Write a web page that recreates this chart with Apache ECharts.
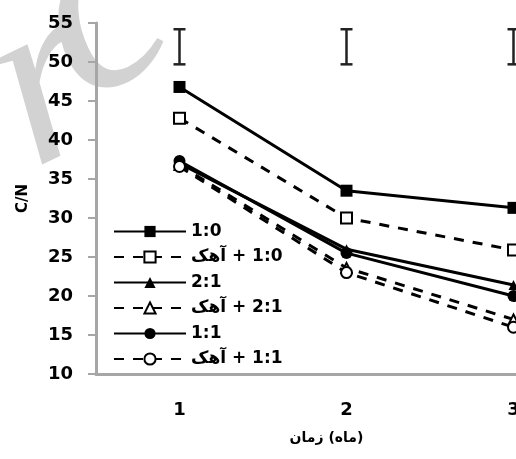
<!DOCTYPE html>
<html>
<head>
<meta charset="utf-8">
<script src="https://cdn.jsdelivr.net/npm/echarts@6/dist/echarts.min.js"></script>
<style>html,body{margin:0;padding:0;background:#fff}#c{width:516px;height:459px}</style>
</head>
<body>
<div id="c"></div>
<script>
const categories = ['1', '2', '3'];
const names = ['1:0', '\u202A\u0622\u0647\u06A9\u200E + 1:0\u202C', '2:1', '\u202A\u0622\u0647\u06A9\u200E + 2:1\u202C', '1:1', '\u202A\u0622\u0647\u06A9\u200E + 1:1\u202C'];
const s10 = [46.8, 33.5, 31.3];
const s10L = [42.8, 30.0, 25.9];
const s21 = [37.0, 26.0, 21.4];
const s21L = [36.8, 23.6, 17.0];
const s11 = [37.3, 25.5, 20.0];
const s11L = [36.6, 23.0, 16.0];
const errLow = [49.7, 49.7, 49.7];
const errHigh = [54.2, 54.2, 54.2];
const yTicks = [10, 15, 20, 25, 30, 35, 40, 45, 50, 55];

const chart = echarts.init(document.getElementById('c'), null, {renderer: 'canvas'});
const FONT = 'DejaVu Sans, sans-serif';

function lineSeries(name, data, symbol, size, dashed) {
  return {
    name: name, type: 'line', data: data, symbol: symbol, symbolSize: size,
    showAllSymbol: true, clip: false,
    lineStyle: {color: '#000', width: 3, type: dashed ? [10, 9] : 'solid'},
    itemStyle: {color: '#000', borderColor: '#000', borderWidth: dashed ? 2 : 0},
    emphasis: {disabled: true}, z: 3
  };
}

const option = {
  animation: false,
  backgroundColor: '#fff',
  graphic: [
    {type: 'text', left: -50, top: -45, z: -10, rotation: 0.45,
     style: {text: 'r', font: 'italic 250px Liberation Serif', fill: '#d2d2d2'}},
    {type: 'text', left: -10, top: -135, z: -10, rotation: 0.45,
     style: {text: 'c', font: 'italic 270px Liberation Serif', fill: '#d2d2d2'}}
  ],
  grid: {left: 96, top: 23, width: 501, height: 351, containLabel: false, outerBoundsMode: 'none'},
  xAxis: {
    type: 'category', data: categories, boundaryGap: true,
    name: '\u202A\u0632\u0645\u0627\u0646\u200E (\u0645\u0627\u0647)\u202C', nameLocation: 'middle', nameGap: 57,
    nameTextStyle: {fontFamily: FONT, fontWeight: 'bold', fontSize: 14, color: '#000', padding: [0, 40, 0, 0]},
    axisLine: {lineStyle: {color: '#a6a6a6', width: 3}},
    axisTick: {alignWithLabel: true, inside: true, length: 5, lineStyle: {color: '#a6a6a6', width: 2}},
    axisLabel: {margin: 27, fontFamily: FONT, fontSize: 18, fontWeight: 'bold', color: '#000'},
    splitLine: {show: false}
  },
  yAxis: {
    type: 'value', min: 10, max: 55, interval: 5,
    name: 'C/N', nameLocation: 'middle', nameGap: 65, nameRotate: 90,
    nameTextStyle: {fontFamily: FONT, fontWeight: 'bold', fontSize: 15, color: '#000'},
    axisLine: {show: true, lineStyle: {color: '#a6a6a6', width: 3}},
    axisTick: {show: true, length: 8, lineStyle: {color: '#a6a6a6', width: 2}},
    axisLabel: {margin: 23, fontFamily: FONT, fontSize: 18, fontWeight: 'bold', color: '#000',
      formatter: v => yTicks.includes(v) ? String(v) : ''},
    splitLine: {show: false}
  },
  legend: {
    show: true, orient: 'vertical', left: 108, top: 218,
    itemWidth: 72, itemHeight: 14, itemGap: 8.5,
    data: names,
    textStyle: {fontFamily: FONT, fontWeight: 'bold', fontSize: 17, color: '#000'},
    backgroundColor: 'transparent', selectedMode: false
  },
  series: [
    lineSeries(names[0], s10, 'rect', 12, false),
    lineSeries(names[1], s10L, 'emptyRect', 11, true),
    lineSeries(names[2], s21, 'triangle', 10, false),
    lineSeries(names[3], s21L, 'emptyTriangle', 10, true),
    lineSeries(names[4], s11, 'circle', 12, false),
    lineSeries(names[5], s11L, 'emptyCircle', 11, true),
    {
      type: 'custom', name: 'err', z: 4, silent: true, clip: false,
      data: categories.map((c, i) => [i, errLow[i], errHigh[i]]),
      encode: {x: 0, y: [1, 2]},
      renderItem: function (params, api) {
        const lo = api.coord([api.value(0), api.value(1)]);
        const hi = api.coord([api.value(0), api.value(2)]);
        const hw = 6;
        const st = {stroke: '#222', lineWidth: 2.5};
        return {type: 'group', children: [
          {type: 'line', shape: {x1: lo[0], y1: lo[1], x2: hi[0], y2: hi[1]}, style: st},
          {type: 'line', shape: {x1: lo[0] - hw, y1: lo[1], x2: lo[0] + hw, y2: lo[1]}, style: st},
          {type: 'line', shape: {x1: hi[0] - hw, y1: hi[1], x2: hi[0] + hw, y2: hi[1]}, style: st}
        ]};
      }
    }
  ]
};
chart.setOption(option);
</script>
</body>
</html>
